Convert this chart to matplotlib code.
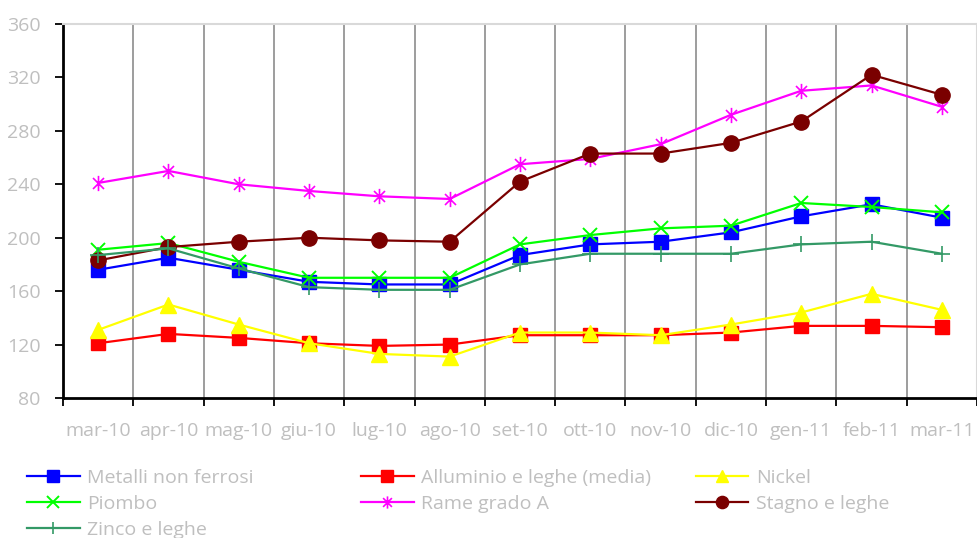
import matplotlib
matplotlib.use("Agg")
import matplotlib.pyplot as plt
from matplotlib.path import Path

# Monthly price indices for non-ferrous metals
months = ["mar-10", "apr-10", "mag-10", "giu-10", "lug-10", "ago-10", "set-10",
          "ott-10", "nov-10", "dic-10", "gen-11", "feb-11", "mar-11"]

metalli = [176, 185, 176, 167, 165, 165, 187, 195, 197, 204, 216, 225, 215]
alluminio = [121, 128, 125, 121, 119, 120, 127, 127, 127, 129, 134, 134, 133]
nickel = [131, 150, 135, 121, 113, 111, 129, 129, 127, 135, 144, 158, 146]
piombo = [191, 196, 182, 170, 170, 170, 195, 202, 207, 209, 226, 223, 219]
rame = [241, 250, 240, 235, 231, 229, 255, 259, 270, 292, 310, 314, 298]
stagno = [183, 193, 197, 200, 198, 197, 242, 263, 263, 271, 287, 322, 307]
zinco = [187, 192, 177, 163, 161, 161, 180, 188, 188, 188, 195, 197, 188]

GRAY_TEXT = "#bfbfbf"
FONT = ["Open Sans", "DejaVu Sans"]
FS = 14

# asterisk marker: vertical bar plus diagonal cross
star = Path(
    [(0, -1), (0, 1), (-0.72, -0.72), (0.72, 0.72), (-0.72, 0.72), (0.72, -0.72)],
    [Path.MOVETO, Path.LINETO, Path.MOVETO, Path.LINETO, Path.MOVETO, Path.LINETO],
)

series = [
    ("Metalli non ferrosi", metalli, "#0000ff", "s", 10, {}),
    ("Alluminio e leghe (media)", alluminio, "#ff0000", "s", 10, {}),
    ("Nickel", nickel, "#ffff00", "^", 11, {}),
    ("Piombo", piombo, "#00ff00", "x", 10, {"markeredgewidth": 1.4}),
    ("Rame grado A", rame, "#ff00ff", star, 11, {"markeredgewidth": 1.2}),
    ("Stagno e leghe", stagno, "#7a0000", "o", 11, {}),
    ("Zinco e leghe", zinco, "#339966", "+", 11, {"markeredgewidth": 1.2}),
]

plt.rcParams["font.family"] = FONT

fig = plt.figure(figsize=(9.78, 5.38), dpi=100)
W, H = 978, 538
ax = fig.add_axes([63 / W, 1 - 398 / H, (977 - 63) / W, (398 - 24) / H])

x = list(range(len(months)))
handles = []
for name, vals, color, marker, ms, extra in series:
    (ln,) = ax.plot(x, vals, color=color, linewidth=1.6, marker=marker,
                    markersize=ms, markerfacecolor=color, markeredgecolor=color,
                    label=name, zorder=3, **extra)
    handles.append(ln)

ax.set_xlim(-0.5, len(months) - 0.5)
ax.set_ylim(80, 360)
ax.set_yticks(range(80, 361, 40))

# category boundaries carry the ticks and vertical grid lines
bounds = [i - 0.5 for i in range(len(months) + 1)]
ax.set_xticks(x)
ax.set_xticklabels(months)
ax.set_xticks(bounds, minor=True)
for b in bounds[1:-1]:
    ax.axvline(b, color="#8c8c8c", linewidth=1.2, zorder=1)

ax.tick_params(axis="x", which="major", length=0, pad=17,
               labelsize=FS, labelcolor=GRAY_TEXT)
ax.tick_params(axis="x", which="minor", length=6, width=1.3, color="black")
ax.tick_params(axis="y", length=6, width=1.3, color="black", pad=10,
               labelsize=FS, labelcolor=GRAY_TEXT)

for side in ("left", "bottom"):
    ax.spines[side].set_color("black")
    ax.spines[side].set_linewidth(2)
for side in ("top", "right"):
    ax.spines[side].set_color("#d9d9d9")
    ax.spines[side].set_linewidth(1.5)

# legend laid out as three equal-width columns
columns = [[0, 3, 6], [1, 4], [2, 5]]
col_x = [27, 361, 696]
for cols, cx in zip(columns, col_x):
    leg = fig.legend(
        [handles[i] for i in cols], [series[i][0] for i in cols],
        loc="upper left", bbox_to_anchor=(cx / W, 1 - 469 / H),
        frameon=False, fontsize=FS, handlelength=2.7, handletextpad=0.4,
        labelspacing=0.4, borderaxespad=0, borderpad=0, markerscale=0.8,
    )
    for t in leg.get_texts():
        t.set_color(GRAY_TEXT)

fig.savefig("out.png", dpi=100)
